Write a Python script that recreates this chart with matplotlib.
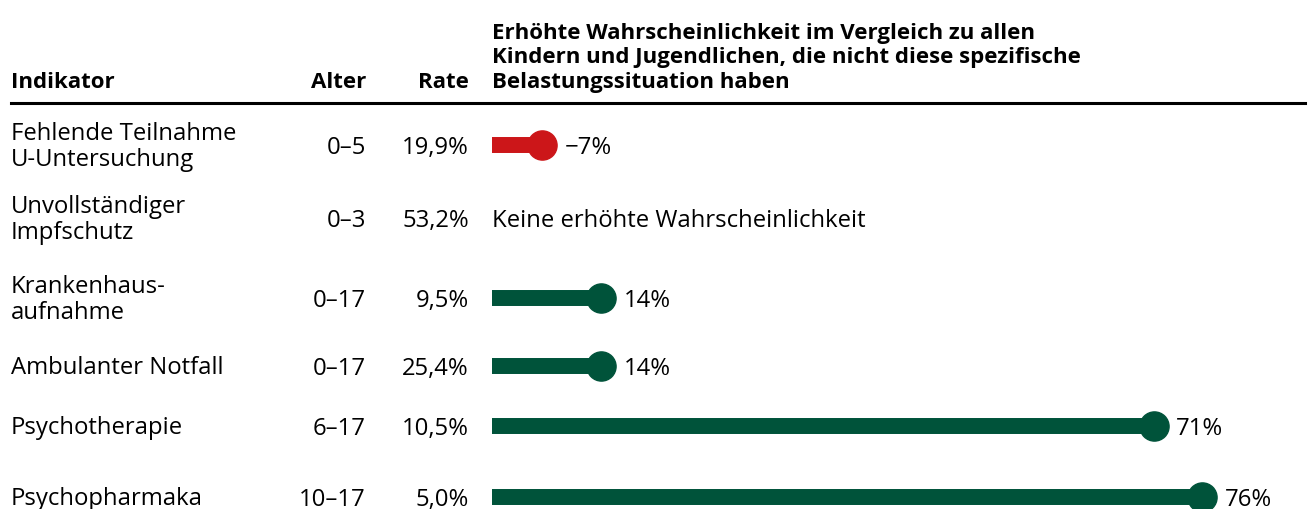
import matplotlib
matplotlib.use("Agg")
import matplotlib.pyplot as plt

# data
indikatoren = ["Fehlende Teilnahme\nU-Untersuchung", "Unvollständiger\nImpfschutz",
               "Krankenhaus-\naufnahme", "Ambulanter Notfall", "Psychotherapie", "Psychopharmaka"]
alter = ["0–5", "0–3", "0–17", "0–17", "6–17", "10–17"]
rate = ["19,9%", "53,2%", "9,5%", "25,4%", "10,5%", "5,0%"]
wahrsch = [-7, None, 14, 14, 71, 76]

title = ("Erhöhte Wahrscheinlichkeit im Vergleich zu allen\n"
         "Kindern und Jugendlichen, die nicht diese spezifische\n"
         "Belastungssituation haben")

W, H = 1309, 509
plt.rcParams['font.family'] = ['Open Sans', 'DejaVu Sans']
fig = plt.figure(figsize=(W / 100, H / 100), dpi=100)

# row centres in pixels from top (layout)
row_px = [145, 218, 298, 366, 426, 497]
dy = 3  # text sits a little lower than the centre
fs = 17.2
fsb = 16
green = "#00533A"
red = "#CC1619"

def fy(p):
    return 1 - p / H

def fx(p):
    return p / W

# header
fig.text(fx(11), fy(88), "Indikator", fontsize=fsb, fontweight="bold", va="baseline", ha="left")
fig.text(fx(366), fy(88), "Alter", fontsize=fsb, fontweight="bold", va="baseline", ha="right")
fig.text(fx(469), fy(88), "Rate", fontsize=fsb, fontweight="bold", va="baseline", ha="right")
fig.text(fx(492), fy(88), title, fontsize=fsb, fontweight="bold", va="baseline", ha="left",
         linespacing=1.22)
fig.add_artist(plt.Line2D([fx(11), fx(1305)], [fy(103), fy(103)], color="black", lw=2.2))

# bar axes: x in percent, y in pixels
x0 = 2.7
ax = fig.add_axes([fx(492), 0, fx(W - 492), 1])
ax.set_xlim(x0, (W - 492) / 9.69 + x0)
ax.set_ylim(H, 0)
ax.axis("off")

for i, name in enumerate(indikatoren):
    y = row_px[i]
    fig.text(fx(11), fy(y + dy - 1), name, fontsize=fs, va="center", ha="left", linespacing=1.1)
    fig.text(fx(366), fy(y + dy), alter[i], fontsize=fs, va="center", ha="right")
    fig.text(fx(469), fy(y + dy), rate[i], fontsize=fs, va="center", ha="right")
    v = wahrsch[i]
    if v is None:
        ax.text(x0, y + dy, "Keine erhöhte Wahrscheinlichkeit", fontsize=fs, va="center", ha="left")
        continue
    c = red if v < 0 else green
    end = abs(v) + (0.9 if v < 0 else 0)
    ax.plot([x0, end], [y, y], color=c, lw=11.5, solid_capstyle="butt", zorder=2)
    ax.plot([end], [y], "o", color=c, markersize=21, zorder=3, clip_on=False)
    label = ("−%d%%" % abs(v)) if v < 0 else ("%d%%" % v)
    ax.text(end + 2.3, y + dy, label, fontsize=fs, va="center", ha="left")

fig.savefig("out.png", dpi=100)
